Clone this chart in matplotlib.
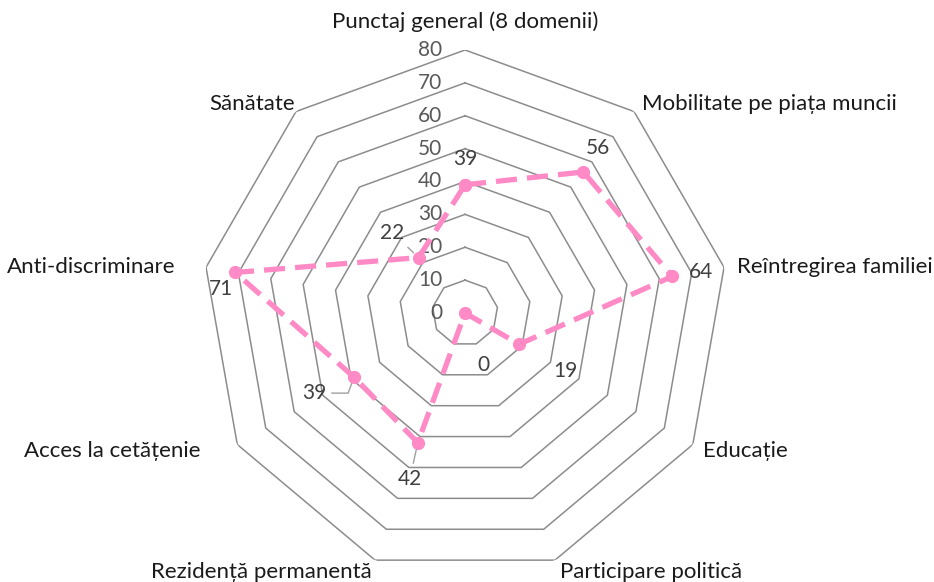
"""Radar chart: scoruri pe domenii (9 axe)."""

import matplotlib

matplotlib.use("Agg")
import matplotlib.pyplot as plt
import numpy as np

plt.rcParams["font.family"] = ["Lato", "DejaVu Sans"]

categories = [
    "Punctaj general (8 domenii)",
    "Mobilitate pe piața muncii",
    "Reîntregirea familiei",
    "Educație",
    "Participare politică",
    "Rezidență permanentă",
    "Acces la cetățenie",
    "Anti-discriminare",
    "Sănătate",
]
scores = [39, 56, 64, 19, 0, 42, 39, 71, 22]
ring_ticks = [10, 20, 30, 40, 50, 60, 70, 80]
tick_labels = ["0", "10", "20", "30", "40", "50", "60", "70", "80"]

PINK = "#FF8AC6"
GRID = "#8C8C8C"
PX = 0.72  # pixels -> points at dpi 100

# label offsets (px) relative to outer vertex, and alignment
cat_offsets = [(0, 28, "center"), (8, 8, "left"), (13, 0, "left"), (10, -6, "left"),
               (5, -12, "left"), (-3, -12, "right"), (-37, -6, "right"),
               (-31, 0, "right"), (-1, 8, "right")]
# data label offsets (px) relative to the point
val_offsets = [(0, 26), (15, 24), (29, 4), (46, -27), (18, -52),
               (-8, -36), (-40, -16), (-14, -17), (-26, 25)]
# leader line style per label (None = no line)
leader = [None, None, None, None, None, "arc3", "angle,angleA=0,angleB=70,rad=0", None, "arc3"]

n = len(categories)
theta = np.arange(n) * 2 * np.pi / n
theta_closed = np.append(theta, theta[0])

fig = plt.figure(figsize=(9.34, 5.82), dpi=100)
ax = fig.add_axes([0.2163, 0.0103, 0.5632, 0.9038], projection="polar")
ax.set_theta_zero_location("N")
ax.set_theta_direction(-1)
ax.set_ylim(0, 80)
ax.grid(False)
ax.spines["polar"].set_visible(False)
ax.set_xticks([])
ax.set_yticks([])
ax.patch.set_alpha(0)

for r in ring_ticks:
    ax.plot(theta_closed, [r] * (n + 1), color=GRID, lw=1.1, zorder=1)

for lab, r in zip(tick_labels, [0] + ring_ticks):
    ax.annotate(lab, xy=(0, r), xytext=(-23 * PX, 0), textcoords="offset points",
                ha="right", va="center", fontsize=15, color="#595959")

vals_closed = scores + scores[:1]
ax.plot(theta_closed, vals_closed, color=PINK, lw=3.8, ls=(0, (4, 1.9)),
        marker="o", markersize=8.5, zorder=3, clip_on=False)

for t, v, (dx, dy), ld in zip(theta, scores, val_offsets, leader):
    props = None
    if ld:
        props = dict(arrowstyle="-", color="#A0A0A0", lw=1, shrinkA=2, shrinkB=5,
                     connectionstyle=ld)
    ax.annotate(str(v), xy=(t, v), xytext=(dx * PX, dy * PX), textcoords="offset points",
                ha="center", va="center", fontsize=15, color="#404040",
                arrowprops=props, zorder=4)

for t, lab, (dx, dy, ha) in zip(theta, categories, cat_offsets):
    ax.annotate(lab, xy=(t, 80), xytext=(dx * PX, dy * PX), textcoords="offset points",
                ha=ha, va="center", fontsize=16, color="#1a1a1a", annotation_clip=False)

fig.savefig("out.png", dpi=100)
plt.close(fig)
